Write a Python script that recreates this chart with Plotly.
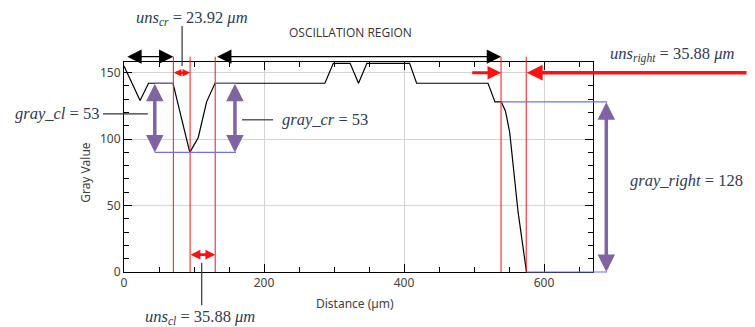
import plotly.graph_objects as go

# ---- data ----
distance = [0, 23, 35, 70, 94, 106, 118, 130, 287, 299, 323, 335, 347, 408, 418, 520, 530, 539, 545, 551, 563, 575]
gray = [155, 129, 142, 142, 90, 101, 128, 142, 142, 157, 157, 142, 157, 157, 142, 142, 128, 128, 121, 105, 45, 0]

x_ticks = [0, 200, 400, 600]
y_ticks = [0, 50, 100, 150]

red_lines = [70.5, 94.4, 130.3, 538.6, 574.6]   # boundaries (µm)
level_left = 142
level_min = 90
level_right = 128

XR = [0, 670]
YR = [0, 158]

# page body has an 8px margin, so the figure is shifted by 8px
W, H = 747, 319
L, T = 116, 54
PW, PH = 469, 210
R, B = W - L - PW, H - T - PH

MATH_FONT = dict(family="Liberation Serif", size=16.5, color="#2d3b55")
TICK_FONT = dict(family="Noto Sans", size=12, color="#404040")
PURPLE = "#8064A2"
BLUE = "#7070EE"
RED = "#FF1010"


def fx(x):
    return (x - XR[0]) / (XR[1] - XR[0])


def fy(y):
    return (y - YR[0]) / (YR[1] - YR[0])


fig = go.Figure()
fig.add_trace(go.Scatter(x=distance, y=gray, mode="lines",
                         line=dict(color="black", width=1.2),
                         hoverinfo="skip", showlegend=False))

shapes = []


def seg(x0, y0, x1, y1, color, width):
    shapes.append(dict(type="line", xref="paper", yref="paper",
                       x0=fx(x0), y0=fy(y0), x1=fx(x1), y1=fy(y1),
                       line=dict(color=color, width=width), layer="above"))


annotations = []


def arrow(x0, y0, x1, y1, color, width, both=True, size=1.0, head=2):
    annotations.append(dict(
        xref="paper", yref="paper", x=fx(x1), y=fy(y1),
        axref="pixel", ayref="pixel",
        ax=(x0 - x1) * PW / (XR[1] - XR[0]),
        ay=-(y0 - y1) * PH / (YR[1] - YR[0]),
        text="", font=dict(size=1), borderpad=0,
        showarrow=True, arrowhead=head, startarrowhead=head,
        arrowside="end+start" if both else "end",
        arrowsize=size, startarrowsize=size,
        arrowwidth=width, arrowcolor=color, standoff=0, startstandoff=0))


def label(x, y, text, font, xanchor="center", yanchor="middle", textangle=0):
    annotations.append(dict(xref="paper", yref="paper", x=fx(x), y=fy(y),
                            text=text, showarrow=False, font=font,
                            xanchor=xanchor, yanchor=yanchor, textangle=textangle))


# red boundary lines
for rx in red_lines:
    seg(rx, 0, rx, 162, RED, 1)

# blue reference levels
seg(44, level_left, red_lines[0], level_left, BLUE, 1.2)
seg(red_lines[2], level_left, 160, level_left, BLUE, 1.2)
seg(44, level_min, 160, level_min, BLUE, 1.2)
seg(red_lines[3], level_right, 690, level_right, BLUE, 1.2)
seg(red_lines[4], 0, 690, 0, BLUE, 1.2)

# purple double arrows (gray value drops)
arrow(44, level_left, 44, level_min, PURPLE, 3.5, size=1.0)
arrow(158.5, level_left, 158.5, level_min, PURPLE, 3.5, size=1.0)
arrow(689, level_right, 689, 0, PURPLE, 3.5, size=1.0)

# red double arrows (widths)
arrow(red_lines[0], 150, red_lines[1], 150, RED, 2.5, size=0.6)
arrow(red_lines[1], 13, red_lines[2], 13, RED, 2.8, size=0.7)
# red single arrows on the right
arrow(496.7, 150, red_lines[3], 150, RED, 3, both=False, size=0.9)
arrow(890, 150, 575.5, 150, RED, 3.5, both=False, size=0.9)

# black double arrows at top
arrow(4, 162, red_lines[0], 162, "black", 1.3, size=2.2)
arrow(red_lines[2] + 2, 162, red_lines[3], 162, "black", 1.3, size=2.2)

# leader lines
seg(83, 185, 83, 155, "#333333", 1.2)
seg(111, 7, 111, -25, "#333333", 1.2)
seg(-30, 119, 34, 119, "#333333", 1.2)
seg(168.6, 114.5, 213, 114.5, "#333333", 1.2)

# texts
label(97, 191, "<i>uns</i><sub><i>cr</i></sub> = 23.92 <i>μm</i>", MATH_FONT)
label(323, 180, "OSCILLATION REGION",
      dict(family="Open Sans", size=12, color="#333333"))
label(783, 164, "<i>uns</i><sub><i>right</i></sub> = 35.88 <i>μm</i>", MATH_FONT)
label(-96, 119.5, "<i>gray_cl</i> = 53", MATH_FONT)
label(223, 115, "<i>gray_cr</i> = 53", MATH_FONT, xanchor="left")
label(804, 69, "<i>gray_right</i> = 128", MATH_FONT)
label(109, -34, "<i>uns</i><sub><i>cl</i></sub> = 35.88 <i>μm</i>", MATH_FONT)
label(-55, 75, "Gray Value", TICK_FONT, textangle=-90)
label(330, -24, "Distance (µm)", TICK_FONT)

fig.update_layout(
    width=W, height=H,
    margin=dict(l=L, r=R, t=T, b=B, pad=0),
    paper_bgcolor="white", plot_bgcolor="white",
    shapes=shapes, annotations=annotations,
    showlegend=False,
)

fig.update_xaxes(range=XR, tickvals=x_ticks, ticktext=[str(v) for v in x_ticks],
                 ticks="inside", ticklen=8, tickcolor="black",
                 showline=True, linecolor="black", linewidth=1, mirror="allticks",
                 showgrid=True, gridcolor="#d4d4d4", gridwidth=1,
                 zeroline=False, tickfont=TICK_FONT,
                 minor=dict(dtick=50, tick0=0, ticks="inside", ticklen=5,
                            tickcolor="black", showgrid=False))
fig.update_yaxes(range=YR, tickvals=y_ticks, ticktext=[str(v) for v in y_ticks],
                 ticks="inside", ticklen=8, tickcolor="black",
                 showline=True, linecolor="black", linewidth=1, mirror="allticks",
                 showgrid=True, gridcolor="#d4d4d4", gridwidth=1,
                 zeroline=False, tickfont=TICK_FONT,
                 minor=dict(dtick=10, tick0=0, ticks="inside", ticklen=5,
                            tickcolor="black", showgrid=False))

fig.write_html("out.html")
